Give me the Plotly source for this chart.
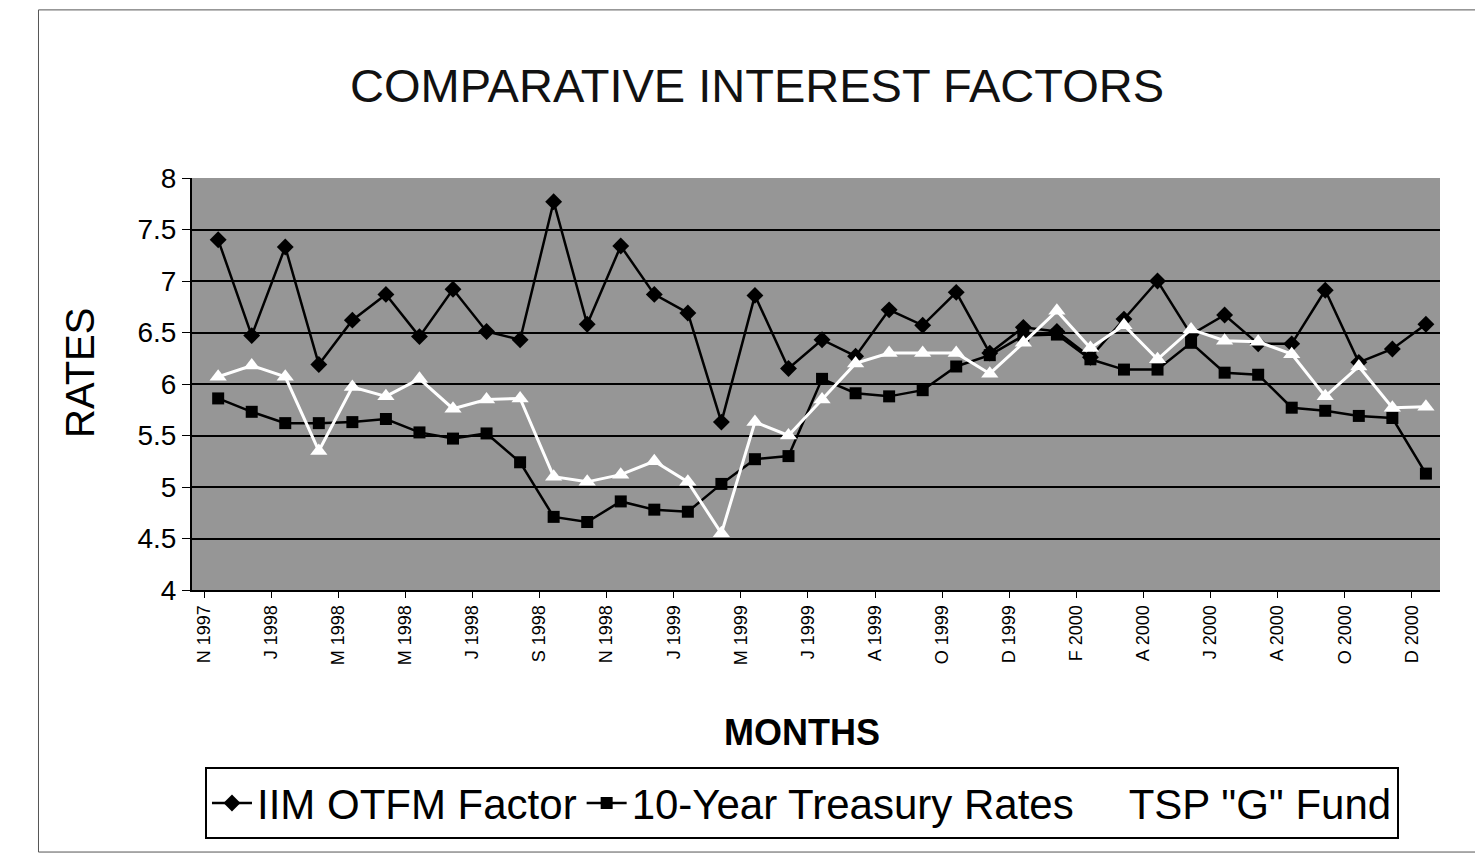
import plotly.graph_objects as go

months = ["N 1997", "D 1997", "J 1998", "F 1998", "M 1998", "A 1998", "M 1998", "J 1998",
          "J 1998", "A 1998", "S 1998", "O 1998", "N 1998", "D 1998", "J 1999", "F 1999",
          "M 1999", "A 1999", "J 1999", "J 1999", "A 1999", "S 1999", "O 1999", "N 1999",
          "D 1999", "J 2000", "F 2000", "M 2000", "A 2000", "M 2000", "J 2000", "J 2000",
          "A 2000", "S 2000", "O 2000", "N 2000", "D 2000"]

iim_otfm = [7.40, 6.47, 7.33, 6.19, 6.62, 6.87, 6.46, 6.92, 6.51, 6.43, 7.77, 6.58, 7.34,
            6.87, 6.69, 5.63, 6.86, 6.15, 6.43, 6.27, 6.72, 6.57, 6.89, 6.30, 6.55, 6.51,
            6.26, 6.63, 7.00, 6.48, 6.67, 6.39, 6.39, 6.91, 6.21, 6.34, 6.58]

treasury_10y = [5.86, 5.73, 5.62, 5.62, 5.63, 5.66, 5.53, 5.47, 5.52, 5.24, 4.71, 4.66, 4.86,
                4.78, 4.76, 5.03, 5.27, 5.30, 6.05, 5.91, 5.88, 5.94, 6.17, 6.28, 6.47, 6.48,
                6.24, 6.14, 6.14, 6.40, 6.11, 6.09, 5.77, 5.74, 5.69, 5.67, 5.13]

tsp_g_fund = [6.07, 6.18, 6.07, 5.35, 5.97, 5.88, 6.05, 5.76, 5.85, 5.86, 5.10, 5.05, 5.12,
              5.25, 5.05, 4.55, 5.63, 5.50, 5.85, 6.20, 6.30, 6.30, 6.30, 6.10, 6.40, 6.71,
              6.35, 6.57, 6.24, 6.53, 6.42, 6.41, 6.29, 5.88, 6.17, 5.77, 5.78]

y_ticks = [4, 4.5, 5, 5.5, 6, 6.5, 7, 7.5, 8]

idx = list(range(len(months)))
label_idx = idx[::2]

fig = go.Figure()
fig.add_trace(go.Scatter(
    x=idx, y=iim_otfm, name="IIM OTFM Factor", mode="lines+markers",
    line=dict(color="black", width=2.5),
    marker=dict(symbol="diamond", size=13, color="black")))
fig.add_trace(go.Scatter(
    x=idx, y=treasury_10y, name="10-Year Treasury Rates", mode="lines+markers",
    line=dict(color="black", width=2.5),
    marker=dict(symbol="square", size=12, color="black")))
fig.add_trace(go.Scatter(
    x=idx, y=tsp_g_fund, name='TSP "G" Fund', mode="lines+markers",
    line=dict(color="white", width=3),
    marker=dict(symbol="triangle-up", size=15, color="white")))

font_family = "Liberation Sans, Arial, sans-serif"

fig.update_layout(
    width=1467, height=849,
    paper_bgcolor="white", plot_bgcolor="#969696",
    margin=dict(l=184, r=35, t=170, b=267),
    font=dict(family=font_family, color="black"),
    title=dict(text="COMPARATIVE INTEREST FACTORS", x=0.5106, xanchor="center",
               y=0.909, yanchor="middle",
               font=dict(size=47, family=font_family, color="#111")),
    xaxis=dict(range=[-0.78, 36.42], tickmode="array",
               tickvals=[i - 0.42 for i in label_idx],
               ticktext=[months[i] for i in label_idx],
               tickangle=-90, tickfont=dict(size=18, color="black"),
               showgrid=False, zeroline=False, showline=True, linecolor="black",
               linewidth=2, ticks="outside", ticklen=6, tickcolor="black"),
    yaxis=dict(range=[4, 8], tickmode="array", tickvals=y_ticks,
               ticktext=[("%g" % v) for v in y_ticks],
               tickfont=dict(size=28, color="black"),
               showgrid=True, gridcolor="black", gridwidth=1.5, zeroline=False,
               showline=True, linecolor="black", linewidth=2,
               ticks="outside", ticklen=8, tickcolor="black"),
    legend=dict(orientation="h", x=0.0104, xanchor="left", y=-0.43, yanchor="top",
                bordercolor="black", borderwidth=2, bgcolor="white",
                font=dict(size=42, color="black"),
                itemwidth=40, traceorder="normal"),
    annotations=[
        dict(text="RATES", xref="paper", yref="paper", x=-0.0897, y=0.527,
             xanchor="center", yanchor="middle", textangle=-90, showarrow=False,
             font=dict(size=40, color="black")),
        dict(text="<b>MONTHS</b>", xref="paper", yref="paper", x=0.489, y=-0.345,
             xanchor="center", yanchor="middle", showarrow=False,
             font=dict(size=36, color="black")),
    ],
    shapes=[dict(type="rect", xref="paper", yref="paper",
                 x0=-0.123, x1=1.03, y0=-0.636, y1=1.408,
                 line=dict(color="#555", width=1), fillcolor="rgba(0,0,0,0)",
                 layer="below")],
)

fig.write_html("out.html")
